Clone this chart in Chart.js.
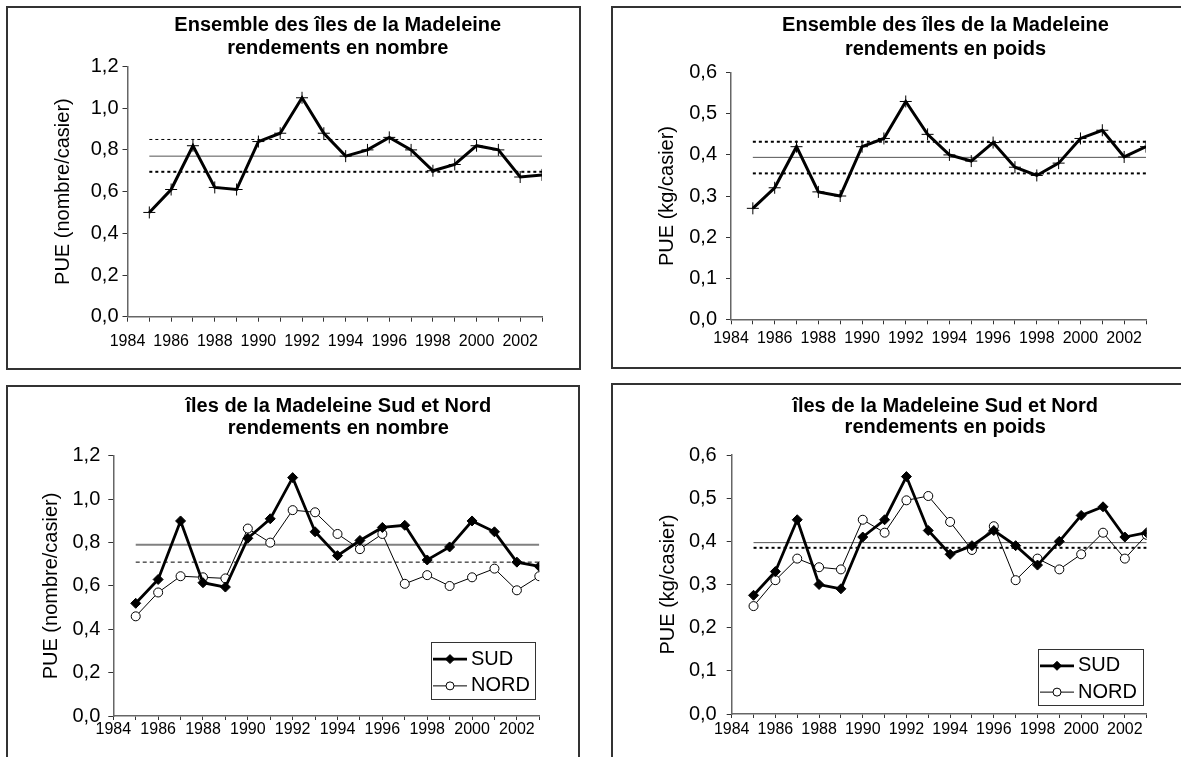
<!DOCTYPE html>
<html>
<head>
<meta charset="utf-8">
<script src="https://cdn.jsdelivr.net/npm/chart.js@4/dist/chart.umd.min.js"></script>
<style>
body { margin:0; background:#fff; width:1181px; height:757px; overflow:hidden; position:relative; }
.frame { position:absolute; border:2px solid #333; box-sizing:border-box; }
canvas { position:absolute; }
</style>
</head>
<body>
<div class="frame" style="left:6px;top:6px;width:575px;height:364px"></div>
<div class="frame" style="left:611px;top:6px;width:600px;height:363px"></div>
<div class="frame" style="left:6px;top:385px;width:574px;height:400px"></div>
<div class="frame" style="left:611px;top:383px;width:600px;height:400px"></div>
<canvas id="c1" width="569" height="358" style="left:9px;top:9px"></canvas>
<canvas id="c2" width="567" height="357" style="left:614px;top:9px"></canvas>
<canvas id="c3" width="569" height="369" style="left:9px;top:388px"></canvas>
<canvas id="c4" width="567" height="371" style="left:614px;top:386px"></canvas>
<script>
var years = [1985, 1986, 1987, 1988, 1989, 1990, 1991, 1992, 1993, 1994, 1995, 1996, 1997, 1998, 1999, 2000, 2001, 2002, 2003];

// ensemble des iles
var nombreTotal = [0.50, 0.61, 0.82, 0.62, 0.61, 0.84, 0.88, 1.05, 0.88, 0.77, 0.80, 0.86, 0.80, 0.70, 0.73, 0.82, 0.80, 0.67, 0.68];
var nombreRef = [0.77, 0.85, 0.695]; // moyenne, haut, bas
var poidsTotal = [0.27, 0.32, 0.42, 0.31, 0.30, 0.42, 0.44, 0.53, 0.45, 0.40, 0.385, 0.43, 0.37, 0.35, 0.38, 0.44, 0.46, 0.395, 0.42];
var poidsRef = [0.394, 0.432, 0.355];

// sud et nord
var nombreSud = [0.52, 0.63, 0.90, 0.615, 0.595, 0.82, 0.91, 1.10, 0.85, 0.74, 0.81, 0.87, 0.88, 0.72, 0.78, 0.90, 0.85, 0.71, 0.69];
var nombreNord = [0.46, 0.57, 0.645, 0.64, 0.635, 0.865, 0.80, 0.95, 0.94, 0.84, 0.77, 0.84, 0.61, 0.65, 0.60, 0.64, 0.68, 0.58, 0.645];
var nombreSNRef = [0.79, 0.71]; // moyenne, bas
var poidsSud = [0.275, 0.33, 0.45, 0.30, 0.29, 0.41, 0.45, 0.55, 0.425, 0.37, 0.39, 0.425, 0.39, 0.345, 0.40, 0.46, 0.48, 0.41, 0.42];
var poidsNord = [0.25, 0.31, 0.36, 0.34, 0.335, 0.45, 0.42, 0.495, 0.505, 0.445, 0.38, 0.435, 0.31, 0.36, 0.335, 0.37, 0.42, 0.36, 0.415];
var poidsSNRef = [0.397, 0.385];

Chart.defaults.font.family = 'Arial, "Liberation Sans", sans-serif';
Chart.defaults.color = '#000';

function pts(vals) {
  return years.map(function (yr, i) { return {x: yr, y: vals[i]}; });
}

function refLine(v, width, color, dash) {
  return {label: '', data: [{x: years[0], y: v}, {x: years[years.length - 1], y: v}],
    borderColor: color, borderWidth: width, borderDash: dash, pointRadius: 0, order: 3};
}

function serieCroix(vals) {
  return {label: '', data: pts(vals), borderColor: '#000', borderWidth: 3,
    pointStyle: 'cross', pointRadius: 6, pointBorderWidth: 1, pointBorderColor: '#000', order: 0};
}

function serieSud(vals) {
  return {label: 'SUD', data: pts(vals), borderColor: '#000', borderWidth: 2.8,
    pointStyle: 'rectRot', pointRadius: 5, pointBackgroundColor: '#000', pointBorderColor: '#000', pointBorderWidth: 1, order: 0};
}

function serieNord(vals) {
  return {label: 'NORD', data: pts(vals), borderColor: '#000', borderWidth: 1,
    pointStyle: 'circle', pointRadius: 4.5, pointBackgroundColor: '#fff', pointBorderColor: '#000', pointBorderWidth: 1, order: 1};
}

// nudge the title sideways (it is not quite centred on the plot in the original)
var titleShift = {
  id: 'titleShift',
  afterLayout: function (chart, args, opts) {
    if (chart.titleBlock) {
      chart.titleBlock.left += opts.dx;
      chart.titleBlock.right += opts.dx;
    }
  }
};

// legend with a frame, drawn inside the plot area
var boxLegend = {
  id: 'boxLegend',
  afterDraw: function (chart, args, opts) {
    var a = chart.chartArea, ctx = chart.ctx;
    var w = opts.width, h = opts.height;
    var left = a.right - opts.right - w, top = a.bottom - opts.bottom - h;
    ctx.save();
    ctx.fillStyle = '#fff';
    ctx.fillRect(left, top, w, h);
    ctx.strokeStyle = '#333';
    ctx.lineWidth = 1;
    ctx.setLineDash([]);
    ctx.strokeRect(Math.round(left) + 0.5, Math.round(top) + 0.5, w, h);
    var rows = [0.3, 0.77];
    opts.items.forEach(function (idx, i) {
      var ds = chart.data.datasets[idx];
      var y = top + h * rows[i];
      ctx.strokeStyle = ds.borderColor;
      ctx.lineWidth = ds.borderWidth;
      ctx.beginPath();
      ctx.moveTo(left + 2, y);
      ctx.lineTo(left + 36, y);
      ctx.stroke();
      ctx.fillStyle = ds.pointBackgroundColor;
      ctx.strokeStyle = ds.pointBorderColor;
      ctx.lineWidth = 1;
      Chart.helpers.drawPoint(ctx, {pointStyle: ds.pointStyle, radius: ds.pointRadius - 0.5, borderWidth: 1, rotation: 0}, left + 19, y);
      ctx.fillStyle = '#000';
      ctx.font = '20px Arial, "Liberation Sans", sans-serif';
      ctx.textBaseline = 'middle';
      ctx.fillText(ds.label, left + 40, y);
    });
    ctx.restore();
  }
};

function makeChart(id, p) {
  return new Chart(document.getElementById(id), {
    type: 'line',
    data: {datasets: p.datasets},
    options: {
      responsive: false,
      animation: false,
      devicePixelRatio: 1,
      layout: {padding: {left: 0, right: p.right, top: 0, bottom: 0}},
      plugins: {
        legend: {display: false},
        tooltip: {enabled: false},
        title: {display: true, text: p.title, fullSize: false, color: '#000',
          font: {size: 20, weight: 'bold', lineHeight: p.titleLH},
          padding: {top: p.titleTop, bottom: p.titleBottom}},
        titleShift: {dx: p.titleDx},
        boxLegend: p.legend || false
      },
      scales: {
        x: {
          type: 'linear', min: 1984, max: 2003,
          afterFit: function (s) { s.height = p.xHeight; },
          grid: {drawOnChartArea: false, tickLength: p.xTick, color: '#333'},
          border: {color: '#666', width: 1.5},
          ticks: {stepSize: 1, autoSkip: false, maxRotation: 0, padding: p.xPad, font: {size: 16},
            callback: function (v) { return v % 2 === 0 ? String(v) : ''; }}
        },
        y: {
          min: 0, max: p.yMax,
          afterFit: function (s) { s.width = p.yWidth; },
          grid: {drawOnChartArea: false, tickLength: 5, color: '#333'},
          border: {color: '#666', width: 1.5},
          title: {display: true, text: p.yTitle, font: {size: 20}, padding: {top: p.yTitlePad, bottom: 0}},
          ticks: {stepSize: p.yStep, padding: p.yPad, font: {size: 20},
            callback: function (v) { return v.toFixed(1).replace('.', ','); }}
        }
      }
    },
    plugins: [titleShift, boxLegend]
  });
}

makeChart('c1', {
  title: ['Ensemble des îles de la Madeleine', 'rendements en nombre'],
  titleLH: 1.15, titleTop: 4.5, titleBottom: 7, titleDx: 3,
  right: 36, yWidth: 118.5, xHeight: 50.3, xTick: 5, xPad: 10, yPad: 4,
  yMax: 1.2, yStep: 0.2, yTitle: 'PUE (nombre/casier)', yTitlePad: 42.5,
  datasets: [
    serieCroix(nombreTotal),
    refLine(nombreRef[0], 1, '#555', []),
    refLine(nombreRef[1], 1, '#000', [3, 3]),
    refLine(nombreRef[2], 2, '#000', [3, 3])
  ]
});

makeChart('c2', {
  title: ['Ensemble des îles de la Madeleine', 'rendements en poids'],
  titleLH: 1.2, titleTop: 4, titleBottom: 11.7, titleDx: 7,
  right: 35, yWidth: 117, xHeight: 46.7, xTick: 5, xPad: 5, yPad: 9,
  yMax: 0.6, yStep: 0.1, yTitle: 'PUE (kg/casier)', yTitlePad: 41.5,
  datasets: [
    serieCroix(poidsTotal),
    refLine(poidsRef[0], 1, '#555', []),
    refLine(poidsRef[1], 2, '#000', [3, 3]),
    refLine(poidsRef[2], 2, '#000', [3, 3])
  ]
});

makeChart('c3', {
  title: ['îles de la Madeleine Sud et Nord', 'rendements en nombre'],
  titleLH: 1.115, titleTop: 6.85, titleBottom: 16.5, titleDx: 12,
  right: 38.7, yWidth: 104.3, xHeight: 41, xTick: 4, xPad: 0, yPad: 8,
  yMax: 1.2, yStep: 0.2, yTitle: 'PUE (nombre/casier)', yTitlePad: 30,
  legend: {items: [0, 1], width: 104, height: 57, right: 4.3, bottom: 17},
  datasets: [
    serieSud(nombreSud),
    serieNord(nombreNord),
    refLine(nombreSNRef[0], 2, '#808080', []),
    refLine(nombreSNRef[1], 1, '#000', [4, 3])
  ]
});

makeChart('c4', {
  title: ['îles de la Madeleine Sud et Nord', 'rendements en poids'],
  titleLH: 1.075, titleTop: 9.25, titleBottom: 16.75, titleDx: 6,
  right: 34.3, yWidth: 117.7, xHeight: 43, xTick: 4, xPad: 1.5, yPad: 10,
  yMax: 0.6, yStep: 0.1, yTitle: 'PUE (kg/casier)', yTitlePad: 42.3,
  legend: {items: [0, 1], width: 105, height: 56, right: 3.7, bottom: 9},
  datasets: [
    serieSud(poidsSud),
    serieNord(poidsNord),
    refLine(poidsSNRef[0], 1, '#555', []),
    refLine(poidsSNRef[1], 2, '#000', [3, 3])
  ]
});
</script>
</body>
</html>
